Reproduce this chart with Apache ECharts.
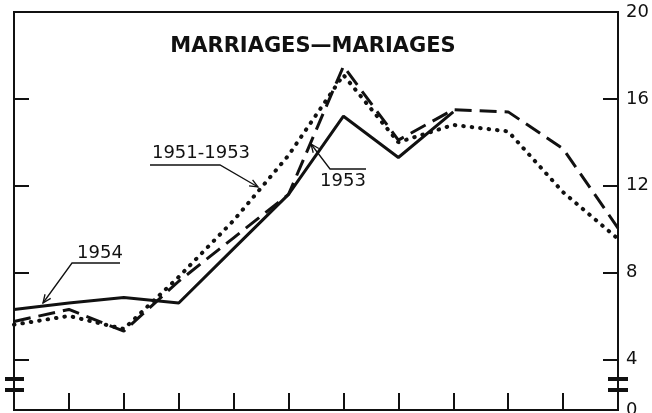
<!DOCTYPE html>
<html>
<head>
<meta charset="utf-8">
<script src="https://cdn.jsdelivr.net/npm/echarts@6/dist/echarts.min.js"></script>
<style>
  html, body { margin: 0; padding: 0; background: #fff; }
  #chart { width: 652px; height: 413px; }
</style>
</head>
<body>
<div id="chart"></div>
<script>
// months Jan..Dec, values in thousands (marriages)
const months = ['J', 'F', 'M', 'A', 'M', 'J', 'J', 'A', 'S', 'O', 'N', 'D'];
const y1954 = [6.3, 6.6, 6.85, 6.6, 9.1, 11.6, 15.2, 13.3, 15.4, null, null, null];
const y1953 = [5.75, 6.3, 5.3, 7.6, 9.6, 11.6, 17.5, 14.1, 15.5, 15.4, 13.7, 10.05];
const avg5153 = [5.6, 6.0, 5.4, 7.8, 10.4, 13.4, 17.1, 14.0, 14.8, 14.5, 11.7, 9.55];
const yTicks = [4, 8, 12, 16];
const yLabels = [1.67, 4, 8, 12, 16, 20];

const ink = '#111';
const chart = echarts.init(document.getElementById('chart'));

const valueAxis = (pos, showLabels) => ({
  type: 'value',
  position: pos,
  min: 1.67,
  max: 20,
  splitLine: { show: false },
  axisLine: { show: true, lineStyle: { color: ink, width: 2 } },
  axisTick: { show: true, inside: true, length: 15, customValues: yTicks, lineStyle: { color: ink, width: 2 } },
  axisLabel: {
    show: showLabels,
    customValues: yLabels,
    margin: 8,
    color: ink,
    fontSize: 18,
    fontFamily: 'DejaVu Sans',
    formatter: v => (v < 2 ? '0' : String(v))
  }
});

// little arrow helper for the annotation leaders
function leader(points, color) {
  const n = points.length;
  const [x1, y1] = points[n - 2];
  const [x2, y2] = points[n - 1];
  const a = Math.atan2(y2 - y1, x2 - x1);
  const L = 9, w = 0.4;
  const head = [
    [x2 - L * Math.cos(a - w), y2 - L * Math.sin(a - w)],
    [x2, y2],
    [x2 - L * Math.cos(a + w), y2 - L * Math.sin(a + w)]
  ];
  return [
    { type: 'polyline', shape: { points }, style: { stroke: color, lineWidth: 1.3, fill: null } },
    { type: 'polyline', shape: { points: head }, style: { stroke: color, lineWidth: 1.3, fill: null } }
  ];
}

const txt = (text, x, y, size, weight) => ({
  type: 'text', x, y,
  style: {
    text, fill: ink, fontSize: size, fontWeight: weight || 'normal',
    fontFamily: 'DejaVu Sans', align: 'center', verticalAlign: 'middle'
  }
});

chart.setOption({
  animation: false,
  grid: {
    left: 14, right: 34, top: 12, bottom: 3,
    containLabel: false, outerBoundsMode: 'none',
    show: true, borderColor: ink, borderWidth: 2
  },
  xAxis: {
    type: 'category',
    data: months,
    boundaryGap: false,
    axisLine: { lineStyle: { color: ink, width: 2 } },
    axisTick: { inside: true, length: 17, lineStyle: { color: ink, width: 2 } },
    axisLabel: { show: false }
  },
  yAxis: [valueAxis('left', false), valueAxis('right', true)],
  series: [
    {
      name: '1954', type: 'line', data: y1954, showSymbol: false,
      lineStyle: { color: ink, width: 3 }
    },
    {
      name: '1953', type: 'line', data: y1953, showSymbol: false,
      lineStyle: { color: ink, width: 3, type: [17, 8] }
    },
    {
      name: '1951-1953', type: 'line', data: avg5153, showSymbol: false,
      lineStyle: { color: ink, width: 4, type: [0.5, 8], cap: 'round' }
    }
  ],
  graphic: [
    txt('MARRIAGES\u2014MARIAGES', 313, 47, 21, 'bold'),
    txt('1954', 100, 253, 18),
    txt('1951-1953', 201, 153, 18),
    txt('1953', 343, 181, 18),
    ...leader([[120, 263], [72, 263], [43, 303]], ink),
    ...leader([[150, 165], [220, 165], [258, 187]], ink),
    ...leader([[366, 169], [330, 169], [311, 144]], ink),
    // axis break marks
    { type: 'rect', shape: { x: 10, y: 381, width: 8, height: 7 }, style: { fill: '#fff' } },
    { type: 'rect', shape: { x: 5, y: 377, width: 19, height: 4 }, style: { fill: ink } },
    { type: 'rect', shape: { x: 5, y: 388, width: 19, height: 4 }, style: { fill: ink } },
    { type: 'rect', shape: { x: 614, y: 381, width: 8, height: 7 }, style: { fill: '#fff' } },
    { type: 'rect', shape: { x: 608, y: 377, width: 20, height: 4 }, style: { fill: ink } },
    { type: 'rect', shape: { x: 608, y: 388, width: 20, height: 4 }, style: { fill: ink } }
  ]
});
</script>
</body>
</html>
